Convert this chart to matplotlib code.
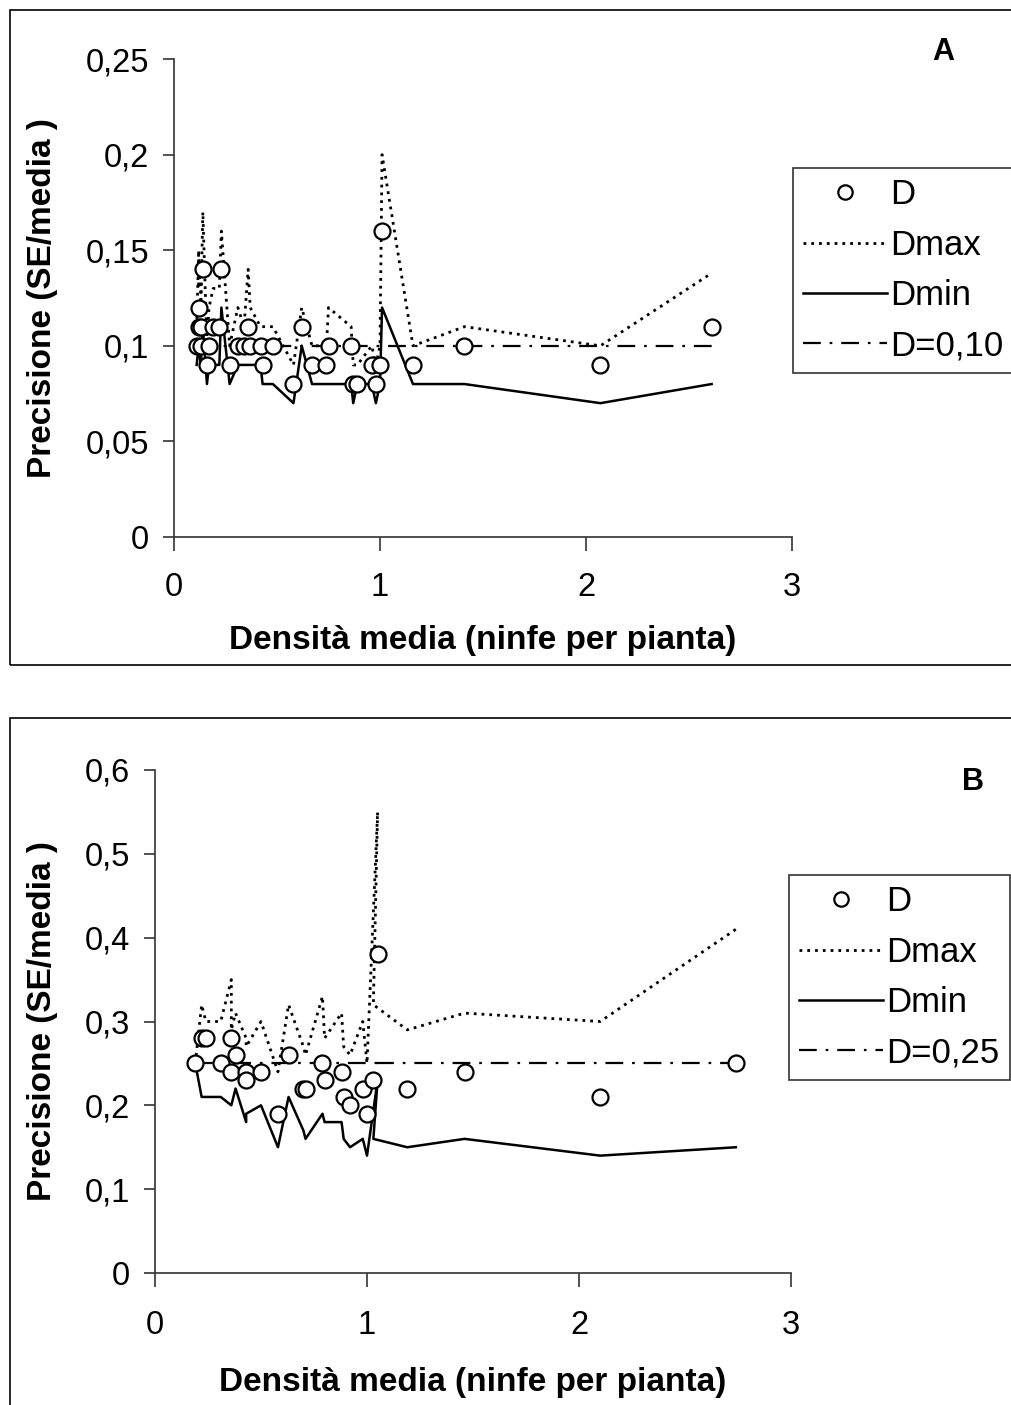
import matplotlib
matplotlib.use("Agg")
import matplotlib.pyplot as plt
from matplotlib.patches import Rectangle

plt.rcParams['font.family'] = ['Liberation Sans', 'DejaVu Sans']

# panel A: mean density (nymphs per plant) and precision
xa = [0.11, 0.12, 0.12, 0.13, 0.13, 0.14, 0.16, 0.17, 0.19, 0.22, 0.23, 0.27, 0.31, 0.34, 0.36, 0.37, 0.42,
      0.43, 0.48, 0.58, 0.62, 0.67, 0.74, 0.75, 0.86, 0.87, 0.89, 0.96, 0.98, 1.00, 1.01, 1.16, 1.41, 2.07, 2.61]
da = [0.10, 0.12, 0.11, 0.11, 0.10, 0.14, 0.09, 0.10, 0.11, 0.11, 0.14, 0.09, 0.10, 0.10, 0.11, 0.10, 0.10,
      0.09, 0.10, 0.08, 0.11, 0.09, 0.09, 0.10, 0.10, 0.08, 0.08, 0.09, 0.08, 0.09, 0.16, 0.09, 0.10, 0.09, 0.11]
dmax_a = [0.11, 0.15, 0.13, 0.14, 0.12, 0.17, 0.10, 0.12, 0.13, 0.13, 0.16, 0.10, 0.12, 0.11, 0.14, 0.12, 0.11,
          0.11, 0.11, 0.09, 0.12, 0.10, 0.10, 0.12, 0.11, 0.09, 0.09, 0.10, 0.09, 0.10, 0.20, 0.10, 0.11, 0.10, 0.138]
dmin_a = [0.09, 0.10, 0.10, 0.09, 0.09, 0.11, 0.08, 0.09, 0.09, 0.09, 0.12, 0.08, 0.09, 0.09, 0.09, 0.09, 0.09,
          0.08, 0.08, 0.07, 0.10, 0.08, 0.08, 0.08, 0.08, 0.07, 0.08, 0.08, 0.07, 0.08, 0.12, 0.08, 0.08, 0.07, 0.08]
target_a = 0.10

# panel B
xb = [0.19, 0.22, 0.24, 0.31, 0.36, 0.36, 0.38, 0.43, 0.43, 0.50, 0.58, 0.63, 0.70, 0.71, 0.79, 0.80, 0.88,
      0.89, 0.92, 0.98, 1.00, 1.05, 1.03, 1.19, 1.46, 2.10, 2.74]
db = [0.25, 0.28, 0.28, 0.25, 0.28, 0.24, 0.26, 0.24, 0.23, 0.24, 0.19, 0.26, 0.22, 0.22, 0.25, 0.23, 0.24,
      0.21, 0.20, 0.22, 0.19, 0.38, 0.23, 0.22, 0.24, 0.21, 0.25]
dmax_b = [0.25, 0.32, 0.30, 0.30, 0.35, 0.29, 0.31, 0.28, 0.27, 0.30, 0.24, 0.32, 0.27, 0.26, 0.33, 0.28, 0.31,
          0.27, 0.26, 0.30, 0.25, 0.55, 0.32, 0.29, 0.31, 0.30, 0.41]
dmin_b = [0.25, 0.21, 0.21, 0.21, 0.20, 0.20, 0.22, 0.18, 0.19, 0.20, 0.15, 0.21, 0.17, 0.16, 0.19, 0.18, 0.18,
          0.16, 0.15, 0.16, 0.14, 0.23, 0.16, 0.15, 0.16, 0.14, 0.15]
target_b = 0.25

W, H = 1012, 1405
fig = plt.figure(figsize=(W / 100, H / 100), dpi=100)

# outer frames of the two panels
fig.patches.append(Rectangle((10 / W, 1 - 665 / H), 1.1, 655 / H, transform=fig.transFigure,
                             fill=False, edgecolor='black', linewidth=1.2))
fig.patches.append(Rectangle((10 / W, -0.1), 1.1, 1 - 718 / H + 0.1, transform=fig.transFigure,
                             fill=False, edgecolor='black', linewidth=1.2))


def fmt_tick(v):
    return ('%g' % round(v, 2)).replace('.', ',')


def panel(rect, x, d, dmax, dmin, target, ymax, ystep, letter, letter_pos, leg_anchor, xpad, xlabpad):
    ax = fig.add_axes(rect)
    ax.plot(x, dmax, color='black', linewidth=2.0, linestyle=(0, (1, 1.8)), label='Dmax', zorder=2)
    ax.plot(x, dmin, color='black', linewidth=1.8, linestyle='-', label='Dmin', zorder=2)
    ax.plot(x, [target] * len(x), color='black', linewidth=1.6, linestyle=(0, (8, 4, 1.2, 4)),
            label='D=%s' % ('%.2f' % target).replace('.', ','), zorder=2)
    ax.plot(x, d, linestyle='none', marker='o', markersize=11.5, markerfacecolor='white',
            markeredgecolor='black', markeredgewidth=1.6, label='D', zorder=3)

    ax.set_xlim(0, 3)
    ax.set_ylim(0, ymax)
    ax.set_xticks([0, 1, 2, 3])
    ticks = [i * ystep for i in range(int(round(ymax / ystep)) + 1)]
    ax.set_yticks(ticks)
    ax.set_yticklabels([fmt_tick(t) for t in ticks])
    ax.spines['top'].set_visible(False)
    ax.spines['right'].set_visible(False)
    for s in ('left', 'bottom'):
        ax.spines[s].set_color('#333333')
        ax.spines[s].set_linewidth(1.2)
    ax.tick_params(axis='y', direction='out', length=8, width=1.2, color='#333333', labelsize=23.5, pad=10)
    ax.tick_params(axis='x', direction='out', length=10, width=1.2, color='#333333', labelsize=23.5, pad=xpad)
    ax.set_xlabel('Densità media (ninfe per pianta)', fontsize=24, fontweight='bold', labelpad=xlabpad)
    ax.set_ylabel('Precisione (SE/media )', fontsize=24, fontweight='bold')
    ax.yaxis.set_label_coords(58 / W, rect[1] + rect[3] / 2, transform=fig.transFigure)

    fig.text(letter_pos[0], letter_pos[1], letter, fontsize=22, fontweight='bold', ha='center', va='center')

    handles, labels = ax.get_legend_handles_labels()
    order = [3, 0, 1, 2]
    leg = ax.legend([handles[i] for i in order], [labels[i] for i in order],
                    loc='upper left', bbox_to_anchor=leg_anchor, bbox_transform=fig.transFigure,
                    fontsize=25, frameon=True, fancybox=False, borderaxespad=0, borderpad=0.3,
                    labelspacing=0.5, handlelength=2.4, handletextpad=0.1, markerscale=0.9)
    leg.get_frame().set_edgecolor('black')
    leg.get_frame().set_linewidth(1.2)
    return ax


panel([174 / W, 1 - 537 / H, 618 / W, 478 / H], xa, da, dmax_a, dmin_a, target_a,
      0.25, 0.05, 'A', (943 / W, 1 - 52 / H), (793 / W, 1 - 168 / H), 15, 16)
panel([155 / W, 1 - 1273 / H, 636 / W, 503 / H], xb, db, dmax_b, dmin_b, target_b,
      0.6, 0.1, 'B', (973 / W, 1 - 782 / H), (789 / W, 1 - 875 / H), 17, 18)

fig.savefig('out.png', dpi=100)
